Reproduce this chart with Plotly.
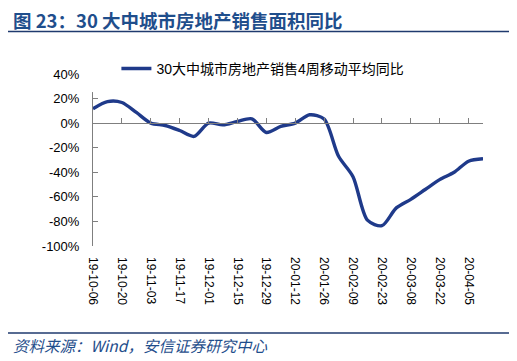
import plotly.graph_objects as go
import pandas as pd

# ---- data ----
dates = pd.date_range("2019-10-06", periods=28, freq="7D").strftime("%Y-%m-%d").tolist()
values = [11.7, 17.5, 16.8, 8.7, 0.0, -1.9, -6.0, -10.8, 0.0, -1.4, 1.4, 3.5,
          -7.6, -2.7, 0.0, 6.8, 3.3, -27.0, -43.6, -79.0, -83.5, -69.0, -62.0,
          -54.0, -46.0, -40.0, -31.0, -29.0]
series_name = "30大中城市房地产销售4周移动平均同比"
title_text = "图 23：30 大中城市房地产销售面积同比"
source_text = "资料来源：Wind，安信证券研究中心"
y_ticks = [-100, -80, -60, -40, -20, 0, 20, 40]

NAVY = "#1f3a8a"
TITLE_BLUE = "#1f4e8c"
AXIS = "#7f7f7f"
FONT = "Liberation Sans, Arial, Noto Sans CJK SC, sans-serif"

fig = go.Figure()
fig.add_trace(go.Scatter(
    x=dates, y=values, mode="lines", name=series_name,
    line=dict(color=NAVY, width=3.4, shape="spline", smoothing=0.8),
    xaxis="x", yaxis="y",
))
# invisible helper trace so the label axis is drawn
fig.add_trace(go.Scatter(
    x=dates, y=values, mode="lines", showlegend=False, hoverinfo="skip",
    line=dict(width=0), opacity=0, xaxis="x2", yaxis="y",
))

x_range = [dates[0], dates[-1]]
fig.update_layout(
    width=509, height=353,
    margin=dict(l=85, r=34, t=66, b=115, autoexpand=False),
    paper_bgcolor="white", plot_bgcolor="white",
    font=dict(family=FONT, size=12, color="black"),
    showlegend=True,
    legend=dict(x=0.06, y=1.03, xanchor="left", yanchor="middle",
                bgcolor="rgba(0,0,0,0)", font=dict(size=14, color="black"),
                itemwidth=30),
    xaxis=dict(type="date", range=x_range, anchor="free", position=100/140,
               showline=True, linecolor=AXIS, linewidth=1,
               ticks="inside", ticklen=5, tickcolor=AXIS,
               tick0=dates[0], dtick=14*86400000,
               showticklabels=False, showgrid=False, zeroline=False),
    xaxis2=dict(type="date", range=x_range, overlaying="x", matches="x",
                anchor="y", side="bottom",
                showline=False, ticks="", tick0=dates[0], dtick=14*86400000,
                tickformat="%y-%m-%d", tickangle=90,
                tickfont=dict(size=12, color="black"),
                ticklabelstandoff=10,
                showgrid=False, zeroline=False),
    yaxis=dict(range=[-100, 40], tickvals=y_ticks,
               ticktext=[f"{v}%" for v in y_ticks],
               showline=True, linecolor=AXIS, linewidth=1,
               ticks="inside", ticklen=5, tickcolor=AXIS,
               ticklabelstandoff=10,
               tickfont=dict(size=13, color="black"),
               showgrid=False, zeroline=False),
)

# white mask over top of y-axis (Excel legend overlaps there)
fig.add_shape(type="rect", xref="paper", yref="paper",
              x0=-0.02, x1=0.015, y0=0.895, y1=1.03,
              fillcolor="white", line=dict(width=0), layer="above")

# title + rules
fig.add_annotation(text=title_text, xref="paper", yref="paper",
                   x=(12-93)/390, y=1 + (74-20)/172, xanchor="left", yanchor="middle",
                   showarrow=False, borderpad=0,
                   font=dict(family="Noto Sans CJK SC, Liberation Sans, sans-serif",
                             size=18.5, color=TITLE_BLUE, weight="bold"))
fig.add_shape(type="line", xref="paper", yref="paper",
              x0=(8-93)/390, x1=(510-93)/390,
              y0=1 + (74-31.5)/172, y1=1 + (74-31.5)/172,
              line=dict(color="#1f3a6e", width=1.5))
fig.add_shape(type="line", xref="paper", yref="paper",
              x0=(8-93)/390, x1=(510-93)/390,
              y0=-(333-246)/172, y1=-(333-246)/172,
              line=dict(color="#1f3a6e", width=1.5))
fig.add_annotation(text="<i>" + source_text + "</i>", xref="paper", yref="paper",
                   x=(12-93)/390, y=-(345-246)/172, xanchor="left", yanchor="middle",
                   showarrow=False, borderpad=0,
                   font=dict(family="Noto Sans CJK SC, Liberation Sans, sans-serif",
                             size=15.5, color=TITLE_BLUE))

fig.write_html("out.html")
